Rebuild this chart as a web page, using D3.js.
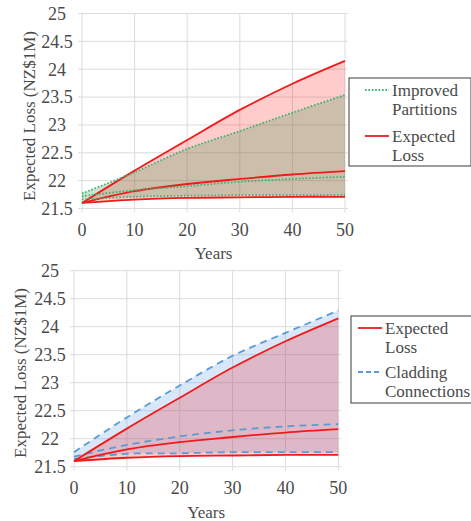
<!DOCTYPE html>
<html>
<head>
<meta charset="utf-8">
<script src="https://cdn.jsdelivr.net/npm/d3@7"></script>
<style>
  body { margin: 0; background: #fff; }
</style>
</head>
<body>
<div id="wrapper"></div>
<script>
// data
const years = [0, 10, 20, 30, 40, 50];
const yTicks = [21.5, 22, 22.5, 23, 23.5, 24, 24.5, 25];
const xTicks = [0, 10, 20, 30, 40, 50];

// Expected Loss (same in both panels)
const lossUpper  = [21.60, 22.18, 22.73, 23.27, 23.74, 24.15];
const lossMedian = [21.60, 21.81, 21.94, 22.03, 22.11, 22.17];
const lossLower  = [21.60, 21.66, 21.69, 21.70, 21.71, 21.71];

// Improved Partitions (top panel)
const partUpper  = [21.77, 22.15, 22.57, 22.89, 23.22, 23.54];
const partMedian = [21.72, 21.83, 21.90, 21.98, 22.03, 22.07];
const partLower  = [21.66, 21.71, 21.73, 21.74, 21.74, 21.74];

// Cladding Connections (bottom panel)
const cladUpper  = [21.76, 22.38, 22.95, 23.48, 23.89, 24.29];
const cladMedian = [21.68, 21.89, 22.04, 22.15, 22.22, 22.26];
const cladLower  = [21.64, 21.73, 21.74, 21.76, 21.76, 21.76];

const red = "#f01a1a";
const green = "#3cb371";
const blue = "#5b9bd5";
const textColor = "#4a4a4a";
const serif = "'Liberation Serif', 'DejaVu Serif', 'Times New Roman', Times, serif";

const svg = d3.select("#wrapper")
  .append("svg")
    .attr("width", 471)
    .attr("height", 521)
    .attr("font-family", serif);

function drawPanel(p) {
  const xScale = d3.scaleLinear().domain([0, 50]).range([p.left, p.right]);
  const yScale = d3.scaleLinear().domain([21.5, 25]).range([p.bottom, p.top]);
  const g = svg.append("g");

  // grid
  g.selectAll(".hgrid").data(yTicks).join("line")
    .attr("x1", p.left - 4).attr("x2", p.right + 3)
    .attr("y1", d => yScale(d)).attr("y2", d => yScale(d))
    .attr("stroke", "#dcdcdc").attr("stroke-width", 1);
  g.selectAll(".vgrid").data(xTicks).join("line")
    .attr("x1", d => xScale(d)).attr("x2", d => xScale(d))
    .attr("y1", p.top).attr("y2", p.bottom + 4)
    .attr("stroke", "#dcdcdc").attr("stroke-width", 1);

  // tick labels
  g.selectAll(".ylab").data(yTicks).join("text")
    .attr("x", p.yLabelX)
    .attr("y", d => yScale(d))
    .attr("dy", "0.35em")
    .attr("text-anchor", "middle")
    .attr("fill", textColor)
    .style("font-family", serif)
    .style("font-size", "18px")
    .text(d => d);
  g.selectAll(".xlab").data(xTicks).join("text")
    .attr("x", d => xScale(d))
    .attr("y", p.xLabelY)
    .attr("dy", "0.35em")
    .attr("text-anchor", "middle")
    .attr("fill", textColor)
    .style("font-family", serif)
    .style("font-size", "18px")
    .text(d => d);

  // axis titles
  g.append("text")
    .attr("x", (p.left + p.right) / 2)
    .attr("y", p.xTitleY)
    .attr("dy", "0.35em")
    .attr("text-anchor", "middle")
    .attr("fill", textColor)
    .style("font-family", serif)
    .style("font-size", "17px")
    .text("Years");
  g.append("text")
    .attr("transform", `translate(${p.yTitleX},${p.yTitleY}) rotate(-90)`)
    .attr("dy", "0.35em")
    .attr("text-anchor", "middle")
    .attr("fill", textColor)
    .style("font-family", serif)
    .style("font-size", "17px")
    .text("Expected Loss (NZ$1M)");

  const area = (lo, hi) => d3.area()
    .x((d, i) => xScale(years[i]))
    .y0((d, i) => yScale(lo[i]))
    .y1((d, i) => yScale(hi[i]))
    .curve(d3.curveCatmullRom)(years);
  const line = vals => d3.line()
    .x((d, i) => xScale(years[i]))
    .y((d, i) => yScale(vals[i]))
    .curve(d3.curveCatmullRom)(years);

  // bands
  p.bands.forEach(b => {
    g.append("path")
      .attr("d", area(b.lower, b.upper))
      .attr("fill", b.fill);
  });
  // lines
  p.lines.forEach(l => {
    g.append("path")
      .attr("d", line(l.values))
      .attr("fill", "none")
      .attr("stroke", l.color)
      .attr("stroke-width", l.width)
      .attr("stroke-dasharray", l.dash);
  });

  // legend
  const lg = g.append("g");
  lg.append("rect")
    .attr("x", p.legend.x).attr("y", p.legend.y)
    .attr("width", p.legend.w).attr("height", p.legend.h)
    .attr("fill", "#fff").attr("stroke", "#3a3a3a").attr("stroke-width", 1);
  p.legend.items.forEach((it, i) => {
    const cy = p.legend.y + p.legend.firstY + i * p.legend.step;
    lg.append("line")
      .attr("x1", p.legend.x + p.legend.lineX).attr("x2", p.legend.x + p.legend.lineX + 24)
      .attr("y1", cy).attr("y2", cy)
      .attr("stroke", it.color).attr("stroke-width", it.width)
      .attr("stroke-dasharray", it.dash);
    it.label.forEach((t, j) => {
      lg.append("text")
        .attr("x", p.legend.x + p.legend.lineX + 27)
        .attr("y", cy + j * 19)
        .attr("dy", "0.35em")
        .attr("fill", textColor)
        .style("font-family", serif)
        .style("font-size", "17px")
        .text(t);
    });
  });
}

const redLines = [
  { values: lossUpper, color: red, width: 1.8, dash: null },
  { values: lossMedian, color: red, width: 1.8, dash: null },
  { values: lossLower, color: red, width: 1.8, dash: null }
];

drawPanel({
  left: 82, right: 345, top: 13.5, bottom: 208.5,
  yLabelX: 57, xLabelY: 230, xTitleY: 253, yTitleX: 29, yTitleY: 116,
  bands: [
    { lower: lossLower, upper: lossUpper, fill: "rgba(255,0,0,0.2)" },
    { lower: partLower, upper: partUpper, fill: "rgba(70,150,80,0.27)" }
  ],
  lines: redLines.concat([
    { values: partUpper, color: green, width: 1.8, dash: "1.6,1.8" },
    { values: partMedian, color: green, width: 1.8, dash: "1.6,1.8" },
    { values: partLower, color: green, width: 1.8, dash: "1.6,1.8" }
  ]),
  legend: {
    x: 349, y: 78, w: 122, h: 88, firstY: 12, step: 46, lineX: 16,
    items: [
      { label: ["Improved", "Partitions"], color: green, width: 1.8, dash: "1.6,1.8" },
      { label: ["Expected", "Loss"], color: red, width: 1.8, dash: null }
    ]
  }
});

drawPanel({
  left: 74, right: 338.3, top: 270.7, bottom: 466.7,
  yLabelX: 50, xLabelY: 488, xTitleY: 512, yTitleX: 20, yTitleY: 373,
  bands: [
    { lower: cladLower, upper: cladUpper, fill: "rgba(100,160,230,0.25)" },
    { lower: lossLower, upper: lossUpper, fill: "rgba(255,0,0,0.2)" }
  ],
  lines: [
    { values: cladUpper, color: blue, width: 1.8, dash: "7,5" },
    { values: cladMedian, color: blue, width: 1.8, dash: "7,5" },
    { values: cladLower, color: blue, width: 1.8, dash: "7,5" }
  ].concat(redLines),
  legend: {
    x: 351, y: 316, w: 121, h: 87, firstY: 12, step: 44, lineX: 7,
    items: [
      { label: ["Expected", "Loss"], color: red, width: 1.8, dash: null },
      { label: ["Cladding", "Connections"], color: blue, width: 1.8, dash: "5,3" }
    ]
  }
});
</script>
</body>
</html>
